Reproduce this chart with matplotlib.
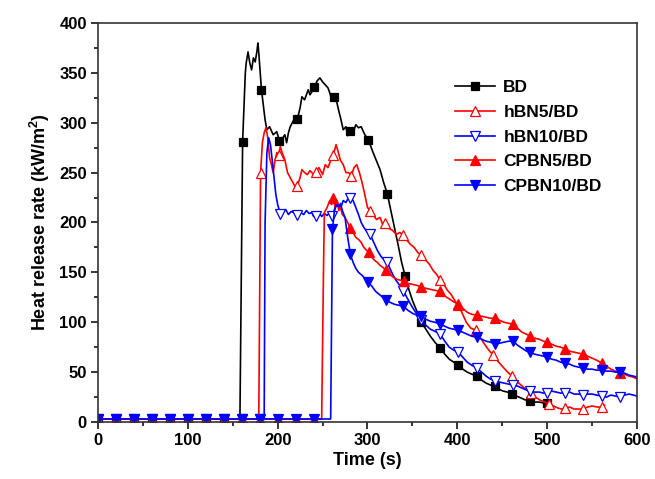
import numpy as np
import matplotlib
matplotlib.use("Agg")
import matplotlib.pyplot as plt
from matplotlib.ticker import MultipleLocator

plt.rcParams['font.family'] = ['Liberation Sans', 'DejaVu Sans']
plt.rcParams['font.weight'] = 'bold'
plt.rcParams['mathtext.fontset'] = 'custom'
plt.rcParams['mathtext.rm'] = 'Liberation Sans:bold'
plt.rcParams['mathtext.bf'] = 'Liberation Sans:bold'

# heat release rate curves (time s, HRR kW/m2)
bd_t = [0, 20, 40, 60, 80, 100, 120, 140, 158, 161, 164, 165, 167, 169, 171, 173, 175, 177, 178,
        179, 181, 182, 186, 188, 191, 195, 199, 202, 205, 208, 210, 212, 214, 218, 222, 225, 227,
        230, 234, 236, 238, 241, 244, 247, 250, 253, 256, 258, 260, 263, 266, 268, 270, 273, 276,
        278, 281, 284, 287, 290, 293, 297, 301, 305, 309, 314, 318, 322, 326, 330, 334, 338, 342,
        346, 350, 355, 360, 365, 370, 375, 381, 386, 391, 396, 401, 406, 411, 416, 422, 427, 432,
        437, 442, 446, 451, 456, 461, 466, 471, 476, 481, 486, 491, 496, 500, 504]
bd_v = [3, 3, 3, 3, 3, 3, 3, 3, 3, 281, 350, 360, 371, 360, 353, 365, 361, 372, 380,
        370, 345, 333, 303, 293, 296, 288, 291, 282, 284, 288, 280, 290, 296, 303, 304, 315, 326,
        323, 333, 328, 331, 336, 342, 345, 341, 338, 335, 330, 324, 326, 320, 312, 305, 293, 296,
        287, 292, 290, 298, 295, 296, 288, 283, 273, 264, 253, 240, 229, 212, 195, 178, 160, 146,
        133, 122, 111, 100, 93, 86, 80, 74, 68, 63, 60, 57, 53, 50, 48, 46, 42, 39,
        37, 36, 33, 31, 30, 28, 26, 24, 22, 21, 20, 20, 19, 19, 21]

hbn5_t = [0, 20, 40, 60, 80, 100, 120, 140, 160, 179, 181, 183, 185, 187, 189, 191, 193, 195, 197,
          199, 201, 203, 205, 208, 211, 214, 217, 220, 222, 225, 227, 230, 233, 236, 240, 243, 246,
          250, 253, 256, 259, 262, 265, 267, 270, 273, 276, 279, 282, 285, 288, 291, 294, 297, 300,
          303, 306, 310, 314, 317, 320, 324, 328, 332, 336, 340, 344, 348, 352, 356, 360, 365, 369,
          373, 377, 381, 385, 389, 393, 397, 401, 405, 410, 415, 421, 426, 431, 436, 440, 445, 450,
          455, 461, 466, 471, 476, 482, 487, 492, 497, 502, 507, 512, 516, 520, 525, 530, 535, 540,
          545, 550, 556, 561, 564]
hbn5_v = [3, 3, 3, 3, 3, 3, 3, 3, 3, 3, 250, 280, 290, 295, 285, 265, 258, 250, 262,
          270, 268, 276, 270, 263, 250, 245, 240, 235, 237, 245, 253, 250, 248, 252, 248, 251, 255,
          248, 258, 255, 262, 268, 278, 272, 262, 258, 250, 250, 247, 255, 258, 250, 240, 228, 215,
          212, 208, 203, 205, 198, 199, 194, 192, 188, 190, 187, 182, 178, 175, 170, 167, 162, 158,
          152, 148, 142, 138, 132, 128, 122, 117, 110, 100, 94, 92, 84, 77, 71, 67, 61, 56,
          51, 46, 41, 37, 33, 29, 25, 22, 20, 18, 16, 14, 13, 14, 15, 13, 13, 13,
          15, 16, 15, 15, 17]

hbn10_t = [0, 20, 40, 60, 80, 100, 120, 140, 160, 180, 185, 186, 188, 190, 192, 194, 196, 198,
           200, 203, 206, 209, 212, 215, 218, 221, 223, 226, 229, 232, 235, 238, 240, 243, 246,
           249, 252, 255, 258, 261, 264, 267, 270, 273, 276, 279, 281, 284, 287, 290, 293, 296,
           300, 303, 307, 311, 315, 319, 322, 327, 331, 335, 340, 345, 350, 355, 360, 365, 370,
           375, 381, 386, 391, 396, 401, 406, 411, 416, 422, 427, 432, 437, 442, 447, 452, 457,
           462, 467, 472, 477, 481, 486, 491, 496, 500, 505, 510, 515, 520, 525, 530, 535, 540,
           545, 550, 555, 561, 566, 571, 576, 581, 586, 591, 596, 600]
hbn10_v = [3, 3, 3, 3, 3, 3, 3, 3, 3, 3, 3, 200, 270, 285, 278, 262, 245, 228,
           218, 209, 210, 213, 208, 211, 210, 208, 206, 210, 208, 212, 209, 210, 206, 207, 210,
           206, 209, 207, 210, 207, 215, 218, 214, 222, 220, 225, 225, 222, 215, 208, 200, 195,
           190, 188, 180, 172, 166, 162, 160, 150, 143, 138, 131, 123, 115, 108, 102, 97, 93,
           91, 88, 81, 75, 72, 70, 65, 60, 57, 54, 50, 46, 43, 41, 40, 39, 38,
           37, 36, 34, 32, 31, 30, 30, 29, 29, 31, 30, 29, 29, 30, 28, 28, 27,
           28, 28, 27, 26, 25, 27, 26, 25, 27, 28, 27, 26]

cpbn5_t = [0, 20, 40, 60, 80, 100, 120, 140, 160, 180, 200, 220, 240, 249, 251, 252, 255, 258,
           260, 262, 264, 266, 268, 270, 272, 275, 278, 281, 284, 287, 290, 293, 296, 299, 302,
           305, 308, 311, 314, 317, 321, 325, 329, 333, 337, 341, 345, 350, 355, 360, 365, 370,
           375, 381, 385, 390, 395, 401, 406, 411, 416, 422, 427, 432, 437, 442, 447, 452, 457,
           462, 467, 472, 477, 481, 486, 491, 496, 500, 505, 510, 515, 520, 525, 530, 535, 540,
           545, 550, 555, 561, 566, 571, 576, 581, 586, 591, 596, 600]
cpbn5_v = [3, 3, 3, 3, 3, 3, 3, 3, 3, 3, 3, 3, 3, 3, 150, 210, 215, 222,
           218, 225, 215, 222, 212, 215, 208, 205, 200, 194, 190, 185, 183, 180, 175, 172, 170,
           165, 162, 160, 157, 155, 152, 148, 145, 143, 142, 141, 139, 138, 137, 135, 134, 133,
           132, 131, 127, 124, 121, 118, 114, 110, 108, 107, 106, 105, 104, 104, 102, 100, 99,
           98, 94, 90, 88, 86, 84, 83, 81, 80, 78, 76, 75, 73, 71, 70, 69, 68,
           66, 64, 62, 59, 56, 53, 51, 49, 48, 46, 45, 43]

cpbn10_t = [0, 20, 40, 60, 80, 100, 120, 140, 160, 180, 200, 220, 240, 259, 261, 263, 265, 268,
            270, 272, 275, 278, 281, 284, 287, 290, 294, 297, 301, 305, 309, 313, 317, 321, 325,
            330, 335, 340, 345, 350, 355, 360, 365, 370, 375, 381, 386, 391, 396, 401, 406, 411,
            416, 422, 427, 432, 437, 442, 447, 452, 457, 462, 467, 472, 477, 481, 486, 491, 496,
            500, 505, 510, 515, 520, 525, 530, 535, 540, 545, 550, 555, 561, 566, 571, 576, 581,
            586, 591, 596, 600]
cpbn10_v = [3, 3, 3, 3, 3, 3, 3, 3, 3, 3, 3, 3, 3, 3, 193, 210, 218, 216,
            219, 212, 205, 185, 168, 160, 154, 150, 147, 144, 140, 136, 131, 128, 125, 122, 120,
            118, 117, 116, 112, 109, 107, 106, 103, 101, 100, 98, 96, 94, 93, 92, 90, 88,
            86, 85, 83, 81, 80, 78, 79, 80, 81, 81, 77, 74, 71, 70, 68, 67, 66,
            65, 63, 62, 60, 59, 58, 56, 55, 54, 53, 53, 52, 52, 51, 51, 50, 50,
            49, 47, 46, 45]

series = [
    ('BD', bd_t, bd_v, 'black', 's', 'black'),
    ('hBN5/BD', hbn5_t, hbn5_v, '#ff0000', '^', 'white'),
    ('hBN10/BD', hbn10_t, hbn10_v, '#0000ff', 'v', 'white'),
    ('CPBN5/BD', cpbn5_t, cpbn5_v, '#ff0000', '^', '#ff0000'),
    ('CPBN10/BD', cpbn10_t, cpbn10_v, '#0000ff', 'v', '#0000ff'),
]


def marker_idx(t, step=20, off=2, tol=3):
    t = np.asarray(t)
    idx = []
    for m in np.arange(off, 601, step):
        i = int(np.argmin(np.abs(t - m)))
        if abs(t[i] - m) <= tol and i not in idx:
            idx.append(i)
    return idx


fig = plt.figure(figsize=(6.55, 4.79), dpi=100)
ax = fig.add_axes([0.1496, 0.119, 0.8229, 0.833])

for name, t, v, col, mk, fc in series:
    ms = 6 if mk == 's' else 7.5
    ax.plot(t, v, color=col, lw=1.2, marker=mk, ms=ms, mfc=fc, mec=col, mew=0.9,
            markevery=marker_idx(t), label=name)

ax.set_xlim(0, 600)
ax.set_ylim(0, 400)
ax.xaxis.set_major_locator(MultipleLocator(100))
ax.xaxis.set_minor_locator(MultipleLocator(50))
ax.yaxis.set_major_locator(MultipleLocator(50))
ax.yaxis.set_minor_locator(MultipleLocator(25))
ax.tick_params(which='both', direction='out', top=False, right=False, labelsize=12, width=1.1)
ax.tick_params(which='major', length=5, pad=3)
ax.tick_params(which='minor', length=3)
for s in ax.spines.values():
    s.set_linewidth(1.2)
    s.set_color('#333333')

ax.set_xlabel('Time (s)', fontsize=13, fontweight='bold', labelpad=3)
ax.set_ylabel(r'Heat release rate (kW/m$^{\mathbf{2}}$)', fontsize=13, fontweight='bold', labelpad=5)

leg = ax.legend(loc='upper left', bbox_to_anchor=(0.634, 0.897), frameon=False, fontsize=12.5,
                handlelength=2.3, labelspacing=0.56, handletextpad=0.46)

fig.savefig('out.png', dpi=100)
